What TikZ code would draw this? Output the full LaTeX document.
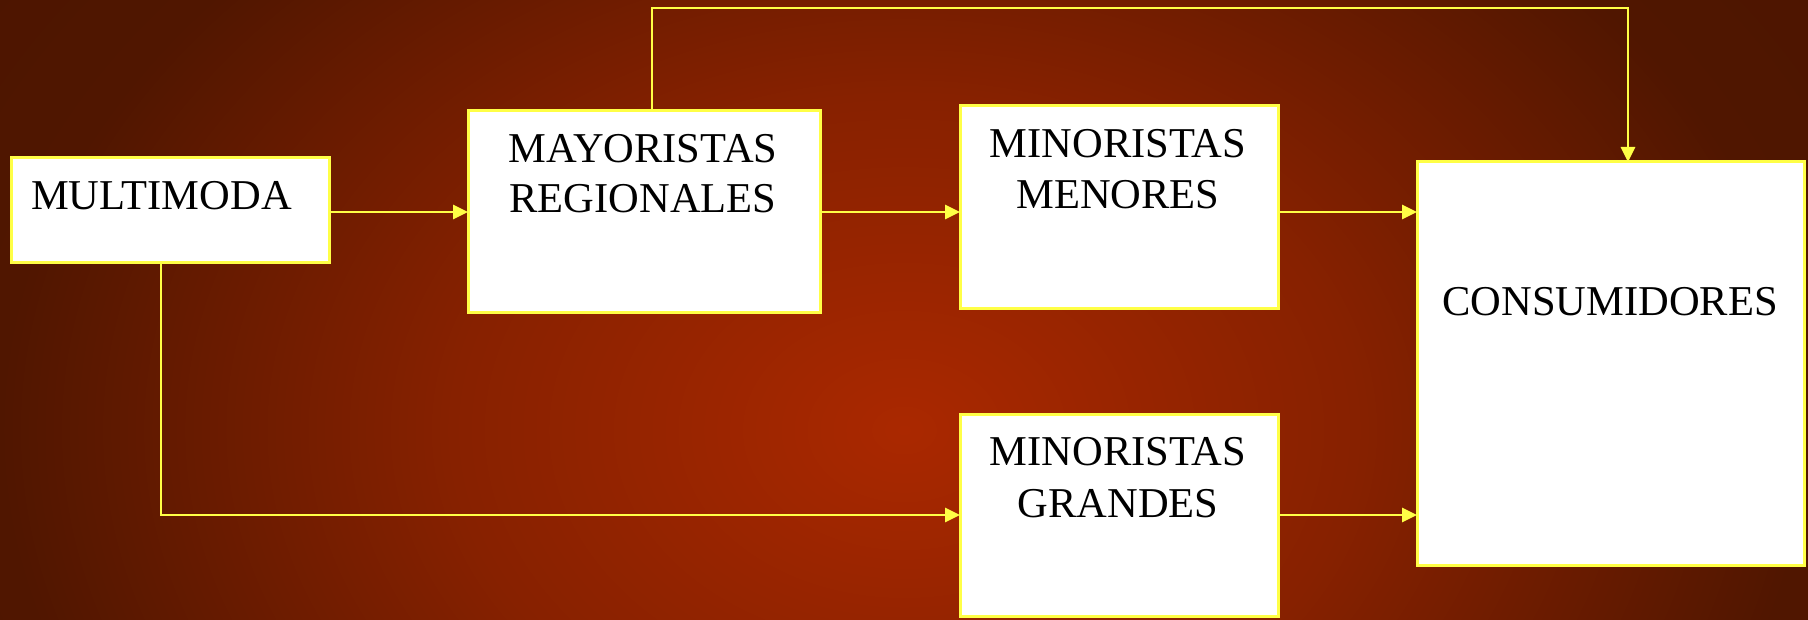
\documentclass[tikz,border=0pt]{standalone}
\usepackage{fontspec}
\setmainfont{Liberation Serif}
\usetikzlibrary{arrows.meta}
\definecolor{bgc0}{RGB}{170,40,0}
\definecolor{bgc1}{RGB}{135,33,0}
\definecolor{bgc2}{RGB}{80,22,0}
\definecolor{bgc3}{RGB}{66,18,0}
\definecolor{yel}{RGB}{255,255,70}
\pgfdeclareradialshading{bgshade}{\pgfpoint{0bp}{0bp}}{color(0bp)=(bgc0); color(12.5bp)=(bgc1); color(25bp)=(bgc2); color(50bp)=(bgc3)}
\begin{document}
\begin{tikzpicture}[x=1pt,y=-1pt,
  box/.style={draw=yel, line width=3pt, fill=white, rectangle, inner sep=0pt, outer sep=0pt},
  lbl/.style={font=\fontsize{42.5}{50}\selectfont, text=black, inner sep=0pt, anchor=base},
  conn/.style={draw=yel, line width=2.8pt, -{Triangle[length=15pt,width=14pt]}}]
\useasboundingbox (0,0) rectangle (1808,620);
\begin{scope}
\clip (0,0) rectangle (1808,620);
\shade[shading=bgshade] (0,-240) rectangle (1808,1100);
\end{scope}
% boxes
\node[box, minimum width=318pt, minimum height=105pt] (mm) at (170,210.5) {};
\node[box, minimum width=352pt, minimum height=202pt] (may) at (644,212) {};
\node[box, minimum width=318pt, minimum height=203pt] (men) at (1119,207.5) {};
\node[box, minimum width=318pt, minimum height=202pt] (gra) at (1119,515) {};
\node[box, minimum width=387pt, minimum height=403pt] (con) at (1610.5,363.5) {};
% texts
\node[lbl, anchor=base west] (tmm) at (31,210) {MULTIMODA};
\node[lbl] (tmay1) at (643,163) {MAYORISTAS};
\node[lbl] (tmay2) at (643,213) {REGIONALES};
\node[lbl] (tmen1) at (1118,158) {MINORISTAS};
\node[lbl] (tmen2) at (1118,209) {MENORES};
\node[lbl] (tgra1) at (1118,465) {MINORISTAS};
\node[lbl] (tgra2) at (1118,517) {GRANDES};
\node[lbl] (tcon) at (1610,316) {CONSUMIDORES};
% connectors
\coordinate (c1) at (161,515);
\coordinate (t1) at (652,8);
\coordinate (t2) at (1628,8);
\draw[conn] (mm.east |- may.west) -- (may.west);
\draw[conn] (may.east) -- (men.west |- may.east);
\draw[conn] (men.east |- may.east) -- (con.west |- may.east);
\draw[conn] (gra.east) -- (con.west |- gra.east);
\draw[conn] (mm.south -| c1) |- (gra.west);
\draw[conn] (may.north -| t1) |- (t2) -- (con.north -| t2);
\end{tikzpicture}
\end{document}
